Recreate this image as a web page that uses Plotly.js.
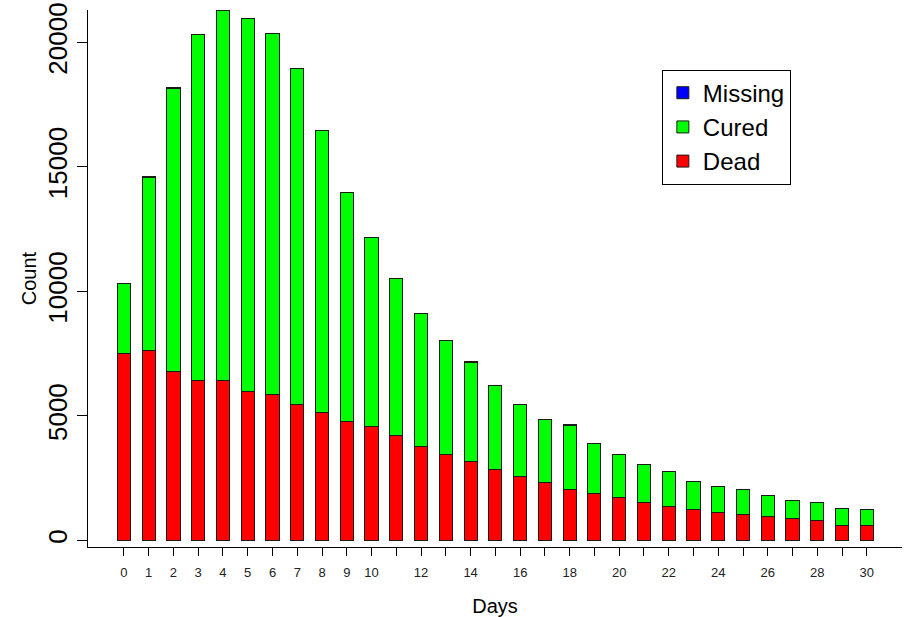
<!DOCTYPE html>
<html>
<head>
<meta charset="utf-8">
<script src="https://cdn.plot.ly/plotly-3.0.1.min.js"></script>
<style>html,body{margin:0;padding:0;background:#fff;}#chart{width:908px;height:617px;}</style>
</head>
<body>
<div id="chart"></div>
<script>
var days = [0,1,2,3,4,5,6,7,8,9,10,11,12,13,14,15,16,17,18,19,20,21,22,23,24,25,26,27,28,29,30];
var dead = [7520,7610,6780,6410,6410,5990,5860,5480,5150,4790,4560,4200,3780,3460,3165,2840,2560,2340,2060,1880,1720,1520,1360,1240,1145,1050,955,865,785,620,585];
var totals = [10330,14610,18200,20300,21290,20970,20340,18950,16460,13980,12180,10530,9120,8020,7180,6220,5480,4840,4650,3880,3460,3045,2765,2390,2160,2030,1800,1615,1535,1295,1255];
var missing = [0,50,45,0,0,0,0,0,0,0,0,0,0,0,45,0,0,0,50,0,0,0,0,0,0,0,0,0,0,0,0];
var cured = totals.map(function(t,i){ return t - dead[i] - missing[i]; });
var tickLabels = ["0","1","2","3","4","5","6","7","8","9","10","","12","","14","","16","","18","","20","","22","","24","","26","","28","","30"];
var yTicks = [0,5000,10000,15000,20000];

var outline = {color:'#1a1a1a', width:1};
var traces = [
  {type:'bar', name:'Dead', x:days, y:dead, width:0.53, marker:{color:'#ff0000', line:outline}},
  {type:'bar', name:'Cured', x:days, y:cured, width:0.53, marker:{color:'#00ff00', line:outline}},
  {type:'bar', name:'Missing', x:days, y:missing, width:0.53, marker:{color:'#0000ff', line:outline}}
];
var font = 'Liberation Sans, Arial, sans-serif';
var layout = {
  width:908, height:617,
  margin:{l:88, r:6, t:10, b:70},
  barmode:'stack',
  paper_bgcolor:'#fff', plot_bgcolor:'#fff',
  font:{family:font, color:'#000'},
  showlegend:true,
  legend:{x:0.705, y:0.889, xanchor:'left', yanchor:'top', traceorder:'reversed',
          bordercolor:'#000', borderwidth:1, bgcolor:'#fff',
          font:{family:font, size:24, color:'#000'}, itemwidth:30},
  xaxis:{range:[-1.45,31.42], tickmode:'array', tickvals:days, ticktext:tickLabels,
         showgrid:false, zeroline:false, showline:true, linecolor:'#000', linewidth:1,
         ticks:'outside', ticklen:8, tickcolor:'#000', tickangle:0, ticklabelstandoff:5,
         tickfont:{family:font, size:13, color:'#222'},
         title:{text:'Days', font:{family:font, size:20, color:'#000'}, standoff:20}},
  yaxis:{range:[-260,21300], tickmode:'array', tickvals:yTicks, ticktext:yTicks.map(String),
         showgrid:false, zeroline:false, showline:true, linecolor:'#000', linewidth:1,
         ticks:'outside', ticklen:10, tickcolor:'#000', tickangle:-90,
         tickfont:{family:font, size:26, color:'#000'},
         title:{text:'Count', font:{family:font, size:20, color:'#000'}, standoff:0}}
};
Plotly.newPlot('chart', traces, layout, {displayModeBar:false, staticPlot:true});
</script>
</body>
</html>
